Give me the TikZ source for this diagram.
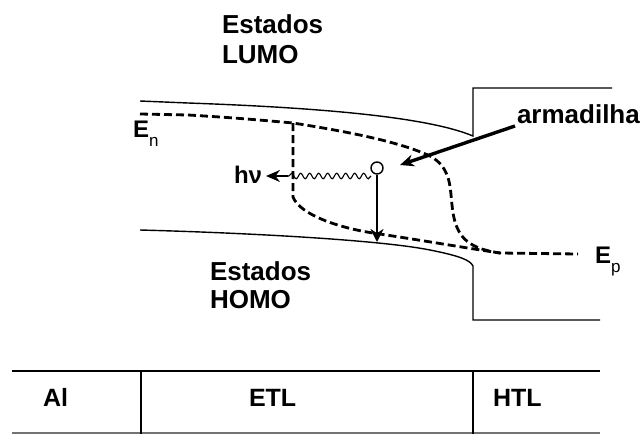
\documentclass[tikz,border=0pt]{standalone}
\usepackage{fontspec}
\setmainfont{Liberation Sans}
\usetikzlibrary{arrows.meta,decorations.pathmorphing}
\tikzset{
  lbl/.style={inner sep=0pt,outer sep=0pt,anchor=base west,font=\bfseries\fontsize{26}{30}\selectfont},
  tbl/.style={inner sep=0pt,outer sep=0pt,anchor=base west,font=\bfseries\fontsize{25}{30}\selectfont},
  band/.style={line width=1.4pt,black},
  qf/.style={line width=2.8pt,dash pattern=on 8pt off 4pt,black},
  thickarrow/.style={line width=3.4pt,-{Stealth[length=14pt,width=12pt]}},
}
\begin{document}
\begin{tikzpicture}[x=1pt,y=-1pt]
\useasboundingbox (0,0) rectangle (643,434);
% coordinates
\coordinate (lumoA) at (140,101);
\coordinate (lumoB) at (188,103);
\coordinate (lumoC) at (473,136);
\coordinate (boxTL) at (473,88);
\coordinate (boxTR) at (612,88);
\coordinate (homoA) at (140,230);
\coordinate (homoC) at (473,266);
\coordinate (boxBL) at (473,320);
\coordinate (boxBR) at (600,320);
% band edges
\draw[band] (lumoA) -- (lumoB) .. controls (330,108) and (430,118) .. (lumoC) -- (boxTL) -- (boxTR);
\draw[band] (homoA) .. controls (250,233) and (380,240) .. (430,250) .. controls (460,256) and (470,260) .. (homoC) -- (boxBL) -- (boxBR);
% quasi Fermi levels
\coordinate (enA) at (140,114);
\coordinate (split) at (293,123);
\coordinate (merge) at (500,253);
\coordinate (epEnd) at (578,254);
\draw[qf] (enA) -- (188,115) .. controls (240,118) and (270,121) .. (split)
  .. controls (350,132) and (400,142) .. (430,156)
  .. controls (452,168) and (450,190) .. (452,205)
  .. controls (455,235) and (465,248) .. (merge) -- (epEnd);
\draw[qf] (split) -- (293,197) .. controls (300,215) and (340,228) .. (373,233)
  .. controls (420,240) and (460,247) .. (merge);
% trap
\node[circle,draw,line width=1.4pt,fill=white,minimum size=12pt,inner sep=0pt] (trap) at (377,168) {};
\coordinate (recomb) at (377,242);
\draw[line width=2.8pt,-{Stealth[length=13pt,width=13pt]}] (trap.south) -- (recomb);
% photon
\node[lbl,font=\bfseries\fontsize{24}{26}\selectfont] (hv) at (234,183) {hν};
\coordinate (waveStart) at (371,176);
\coordinate (waveEnd) at (288,176);
\coordinate (hvTip) at (266,176);
\draw[line width=1.1pt,decorate,decoration={snake,amplitude=2.8pt,segment length=9pt}] (waveStart) -- (waveEnd);
\draw[line width=2pt,-{Stealth[length=14pt,width=12pt]}] (waveEnd) -- (hvTip);
% armadilha
\node[lbl] (arm) at (517,123) {armadilha};
\coordinate (armStart) at (515,126);
\coordinate (armTip) at (400,165);
\draw[thickarrow] (armStart) -- (armTip);
% labels
\node[lbl] (est1) at (222,33) {Estados};
\node[lbl] (lumo) at (222,63) {LUMO};
\node[lbl] (est2) at (210,280) {Estados};
\node[lbl] (homo) at (210,308) {HOMO};
\node[lbl,font=\bfseries\fontsize{24}{26}\selectfont] (En) at (133,137) {E\raisebox{-9pt}{\fontsize{17}{18}\mdseries\selectfont n}};
\node[lbl,font=\bfseries\fontsize{24}{26}\selectfont] (Ep) at (595,263) {E\raisebox{-9pt}{\fontsize{17}{18}\mdseries\selectfont p}};
% table
\coordinate (tTL) at (12,371);
\coordinate (tTR) at (600,371);
\coordinate (tBL) at (12,433);
\coordinate (tBR) at (600,433);
\draw[line width=1.8pt] (tTL) -- (tTR);
\draw[line width=1.2pt,black!55] (tBL) -- (tBR);
\draw[line width=1.6pt] (141,371) -- (141,434);
\draw[line width=1.6pt] (473,371) -- (473,434);
\node[tbl] (al) at (43,406) {Al};
\node[tbl] (etl) at (249,406) {ETL};
\node[tbl] (htl) at (493,406) {HTL};
\end{tikzpicture}
\end{document}
